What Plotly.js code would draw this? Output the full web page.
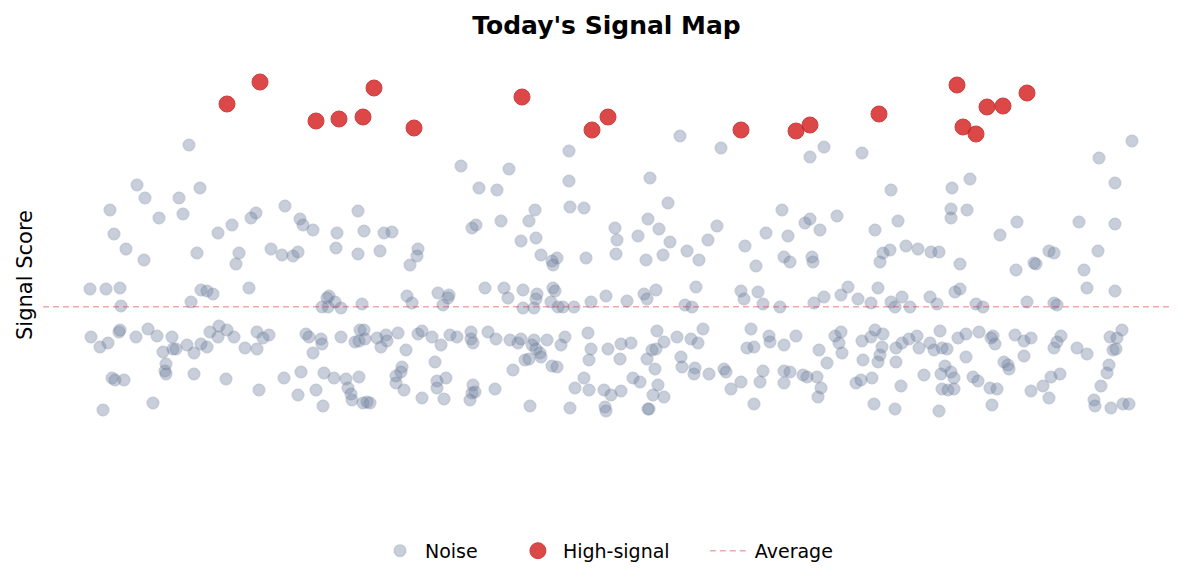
<!DOCTYPE html>
<html>
<head>
<meta charset="utf-8">
<script src="https://cdn.plot.ly/plotly-3.0.1.min.js"></script>
<style>
  html, body { margin: 0; padding: 0; background: #fff; }
  #chart { width: 1185px; height: 584px; }
</style>
</head>
<body>
<div id="chart"></div>
<script>
// position along the day (arbitrary units) and score of each reading
var noiseT = [
  189, 137, 200, 145, 179, 110, 183, 159, 256, 251, 232, 114, 218, 126, 197, 239, 144, 236,
  90, 106, 120, 201, 207, 213, 249, 121, 191, 91, 100, 108, 119, 120, 136, 148, 157, 172,
  163, 173, 176, 187, 194, 201, 207, 210, 219, 218, 227, 234, 245, 257, 257, 166, 165, 166,
  194, 112, 115, 124, 226, 259, 153, 103,
  285, 300, 303, 313, 358, 337, 364, 384, 392, 271, 282, 293, 298, 336, 358, 380, 418, 417,
  410, 329, 327, 335, 322, 328, 341, 362, 407, 412, 438, 443, 263, 269, 306, 309, 321, 322,
  313, 341, 355, 360, 364, 359, 365, 377, 386, 387, 381, 398, 406, 418, 422, 432, 441, 284,
  301, 298, 316, 323, 324, 334, 346, 359, 348, 351, 352, 363, 367, 370, 402, 396, 401, 396,
  404, 422, 435, 437, 437,
  569, 461, 509, 569, 479, 497, 570, 584, 535, 501, 529, 472, 476, 521, 536, 541, 557, 552,
  553, 586, 449, 448, 485, 504, 508, 523, 537, 536, 523, 534, 553, 555, 551, 558, 563, 574,
  591, 606, 450, 457, 471, 471, 473, 488, 496, 510, 518, 521, 534, 532, 536, 547, 565, 561,
  588, 591, 608, 540, 541, 525, 529, 513, 552, 557, 589, 446, 444, 473, 472, 475, 470, 495,
  530, 575, 584, 589, 570, 604, 611, 605, 606,
  680, 721, 650, 668, 782, 648, 615, 659, 717, 638, 617, 670, 708, 766, 788, 745, 616, 663,
  687, 646, 699, 756, 784, 790, 627, 644, 647, 656, 696, 685, 692, 741, 744, 758, 763, 780,
  621, 631, 620, 657, 664, 652, 656, 647, 655, 677, 691, 698, 703, 681, 682, 695, 694, 709,
  724, 726, 741, 731, 751, 747, 754, 769, 770, 784, 763, 760, 784, 784, 633, 640, 621, 658,
  653, 664, 649, 648, 754,
  824, 810, 862, 891, 952, 970, 805, 810, 820, 837, 875, 898, 951, 951, 967, 812, 813, 883,
  890, 880, 906, 918, 931, 939, 960, 814, 824, 841, 848, 858, 871, 878, 891, 895, 902, 910,
  930, 937, 955, 960, 796, 819, 827, 835, 841, 839, 842, 862, 871, 875, 883, 882, 880, 878,
  863, 896, 902, 909, 917, 919, 930, 934, 940, 942, 947, 958, 966, 966, 896, 790, 803, 807,
  817, 821, 818, 856, 861, 872, 901, 874, 895, 924, 941, 945, 951, 954, 942, 948, 954, 939,
  1132, 1099, 1115, 1017, 1079, 1115, 1000, 1049, 1054, 1098, 1034, 1036, 1016, 1084, 1087,
  1115, 976, 983, 1027, 1054, 1057, 979, 991, 993, 995, 1015, 1024, 1031, 1061, 1057, 1054,
  1077, 1087, 1110, 1122, 1117, 1113, 1116, 1024, 1004, 1008, 1009, 1109, 1107, 973, 978,
  990, 997, 992, 1031, 1043, 1051, 1060, 1049, 1101, 1094, 1095, 1111, 1123, 1129
];
var noiseScore = [
  35.5, 31.5, 31.2, 30.2, 30.2, 29.0, 28.6, 28.2, 28.7, 28.2, 27.5, 26.6, 26.7, 25.1, 24.7, 24.7, 24.0, 23.6,
  21.1, 21.1, 21.2, 21.0, 20.9, 20.6, 21.2, 19.4, 19.8, 16.3, 15.3, 15.7, 16.8, 17.0, 16.3, 17.1, 16.4, 16.3,
  14.8, 15.1, 15.1, 15.5, 14.7, 15.6, 15.3, 16.8, 17.4, 16.3, 17.0, 16.3, 15.2, 16.8, 15.1, 13.6, 12.9, 12.6,
  12.6, 12.2, 12.0, 12.0, 12.1, 11.0, 9.7, 9.0,
  29.4, 28.1, 27.5, 27.0, 28.9, 26.7, 26.9, 26.7, 26.8, 25.1, 24.5, 24.4, 24.8, 25.2, 24.6, 24.9, 25.1, 24.4,
  23.5, 20.4, 20.2, 19.8, 19.3, 19.3, 19.2, 19.6, 20.4, 19.7, 20.7, 19.5, 16.2, 16.5, 16.6, 16.3, 16.1, 15.6,
  14.7, 16.3, 15.8, 17.0, 17.0, 15.9, 16.1, 16.2, 16.5, 15.9, 15.3, 16.7, 15.0, 16.6, 16.9, 16.3, 15.5, 12.2,
  12.8, 10.5, 11.0, 9.4, 12.7, 12.2, 12.1, 12.3, 11.2, 10.6, 10.0, 9.7, 9.8, 9.7, 13.3, 12.4, 12.8, 11.7,
  11.0, 10.2, 13.8, 11.9, 11.2,
  34.9, 33.4, 33.1, 31.9, 31.2, 31.0, 29.3, 29.2, 29.0, 27.9, 27.9, 27.2, 27.5, 25.9, 26.2, 24.5, 24.2, 23.9,
  23.5, 24.2, 20.5, 20.2, 21.2, 21.2, 20.2, 21.0, 20.6, 20.1, 19.2, 19.2, 21.2, 20.9, 19.8, 19.3, 19.3, 19.3,
  19.8, 20.4, 16.5, 16.3, 16.8, 16.1, 15.7, 16.8, 16.1, 16.0, 15.7, 16.1, 16.0, 15.5, 15.1, 16.0, 16.3, 15.5,
  16.7, 15.1, 15.1, 14.7, 14.3, 14.0, 14.1, 13.0, 13.4, 13.3, 14.0, 12.2, 10.1, 11.5, 10.7, 10.8, 10.0, 11.1,
  9.4, 11.2, 12.2, 11.0, 9.2, 11.0, 10.5, 9.3, 8.9,
  36.4, 35.2, 32.2, 29.7, 29.0, 28.1, 27.2, 27.1, 27.4, 26.4, 26.0, 25.8, 26.0, 26.7, 26.4, 25.4, 24.6, 24.5,
  24.9, 24.0, 24.0, 23.4, 24.3, 23.8, 19.9, 20.6, 20.1, 21.0, 21.3, 19.5, 19.3, 20.9, 20.1, 20.8, 19.6, 19.3,
  15.6, 15.7, 14.1, 16.9, 15.8, 15.0, 15.1, 14.1, 13.1, 16.3, 16.1, 15.7, 17.1, 14.3, 13.3, 13.2, 12.6, 12.6,
  13.1, 12.8, 11.8, 11.1, 17.1, 15.2, 15.3, 16.4, 15.8, 15.5, 12.9, 11.8, 12.9, 11.7, 12.2, 11.8, 10.9, 11.5,
  10.5, 10.3, 9.1, 9.1, 9.6,
  35.3, 34.3, 34.7, 31.0, 31.2, 32.1, 27.7, 28.1, 27.0, 28.4, 27.0, 27.9, 29.1, 28.2, 29.0, 24.3, 23.8, 24.7,
  25.0, 23.8, 25.4, 25.1, 24.8, 24.8, 23.6, 19.7, 20.3, 20.5, 21.3, 20.1, 19.7, 21.2, 19.8, 19.3, 20.3, 19.3,
  20.3, 19.6, 20.8, 21.1, 16.4, 15.0, 13.7, 16.4, 16.8, 15.7, 14.7, 15.9, 16.3, 17.0, 16.6, 15.3, 14.5, 13.8,
  14.0, 15.2, 15.7, 16.1, 16.4, 15.2, 15.7, 15.0, 16.9, 15.2, 15.1, 16.2, 16.6, 14.3, 13.8, 12.8, 12.5, 12.3,
  12.3, 11.2, 10.3, 11.7, 12.0, 12.2, 11.4, 9.6, 9.1, 12.5, 12.6, 13.4, 12.8, 12.2, 11.1, 11.0, 11.1, 8.9,
  35.9, 34.2, 31.7, 27.8, 27.8, 27.6, 26.5, 24.9, 24.7, 24.9, 23.7, 23.6, 23.0, 23.0, 21.2,
  20.9, 19.6, 19.3, 19.8, 19.7, 19.5, 16.8, 16.2, 16.4, 15.6, 16.5, 15.9, 16.2, 16.4, 15.8, 15.2,
  15.2, 14.6, 16.3, 17.0, 16.2, 15.0, 15.1, 14.4, 13.8, 13.5, 13.1, 13.5, 12.7, 12.3, 11.9,
  11.2, 11.1, 9.5, 10.9, 11.4, 12.3, 12.6, 10.2, 11.4, 10.0, 9.4, 9.2, 9.6, 9.6
];
var signalT = [227, 260, 316, 339, 363, 374, 414, 522, 592, 608, 741, 796, 810, 879, 957, 963, 976, 987, 1003, 1027];
var signalScore = [39.6, 41.8, 37.9, 38.1, 38.3, 41.2, 37.2, 40.3, 37.0, 38.3, 37.0, 36.9, 37.5, 38.6, 41.5, 37.3, 36.6, 39.3, 39.4, 40.7];
var averageScore = 19.33;
var tRange = [43, 1170];
var scoreRange = [0, 45];

var font = "DejaVu Sans, Verdana, sans-serif";
var pad = "\u00a0\u00a0\u00a0\u00a0\u00a0"; // extra room between legend entries

var traces = [{
    name: "Noise" + pad,
    type: "scatter",
    mode: "markers",
    x: noiseT,
    y: noiseScore,
    marker: {
        size: 11,
        color: "#7888a6",
        opacity: 0.4,
        line: {color: "#6a7a98", width: 2}
    },
    hoverinfo: "skip"
}, {
    name: "High-signal" + pad,
    type: "scatter",
    mode: "markers",
    x: signalT,
    y: signalScore,
    marker: {
        size: 16,
        color: "#d62728",
        opacity: 0.85,
        line: {color: "#c41f20", width: 1}
    },
    hoverinfo: "skip"
}, {
    name: "Average",
    type: "scatter",
    mode: "lines",
    x: tRange,
    y: [averageScore, averageScore],
    line: {color: "rgba(214,39,40,0.4)", width: 1.5, dash: "6px,4px"},
    hoverinfo: "skip"
}];

var layout = {
    width: 1185,
    height: 584,
    margin: {l: 43, r: 15, t: 50, b: 84},
    paper_bgcolor: "#fff",
    plot_bgcolor: "#fff",
    font: {family: font, color: "#000"},
    title: {
        text: "<b>Today's Signal Map</b>",
        font: {family: font, size: 25, color: "#000"},
        x: 0.5, xref: "paper",
        y: 0.957, yref: "container", yanchor: "middle"
    },
    xaxis: {
        range: tRange,
        visible: false,
        showgrid: false,
        zeroline: false
    },
    yaxis: {
        range: scoreRange,
        showgrid: false,
        zeroline: false,
        showline: false,
        showticklabels: false,
        ticks: "",
        title: {text: "Signal Score", font: {family: font, size: 21, color: "#000"}, standoff: 3}
    },
    showlegend: true,
    legend: {
        orientation: "h",
        x: 0.5, xanchor: "center",
        y: -0.113, yanchor: "middle",
        itemwidth: 40,
        font: {family: font, size: 19, color: "#000"}
    }
};

Plotly.newPlot("chart", traces, layout, {displayModeBar: false, staticPlot: true});
</script>
</body>
</html>
